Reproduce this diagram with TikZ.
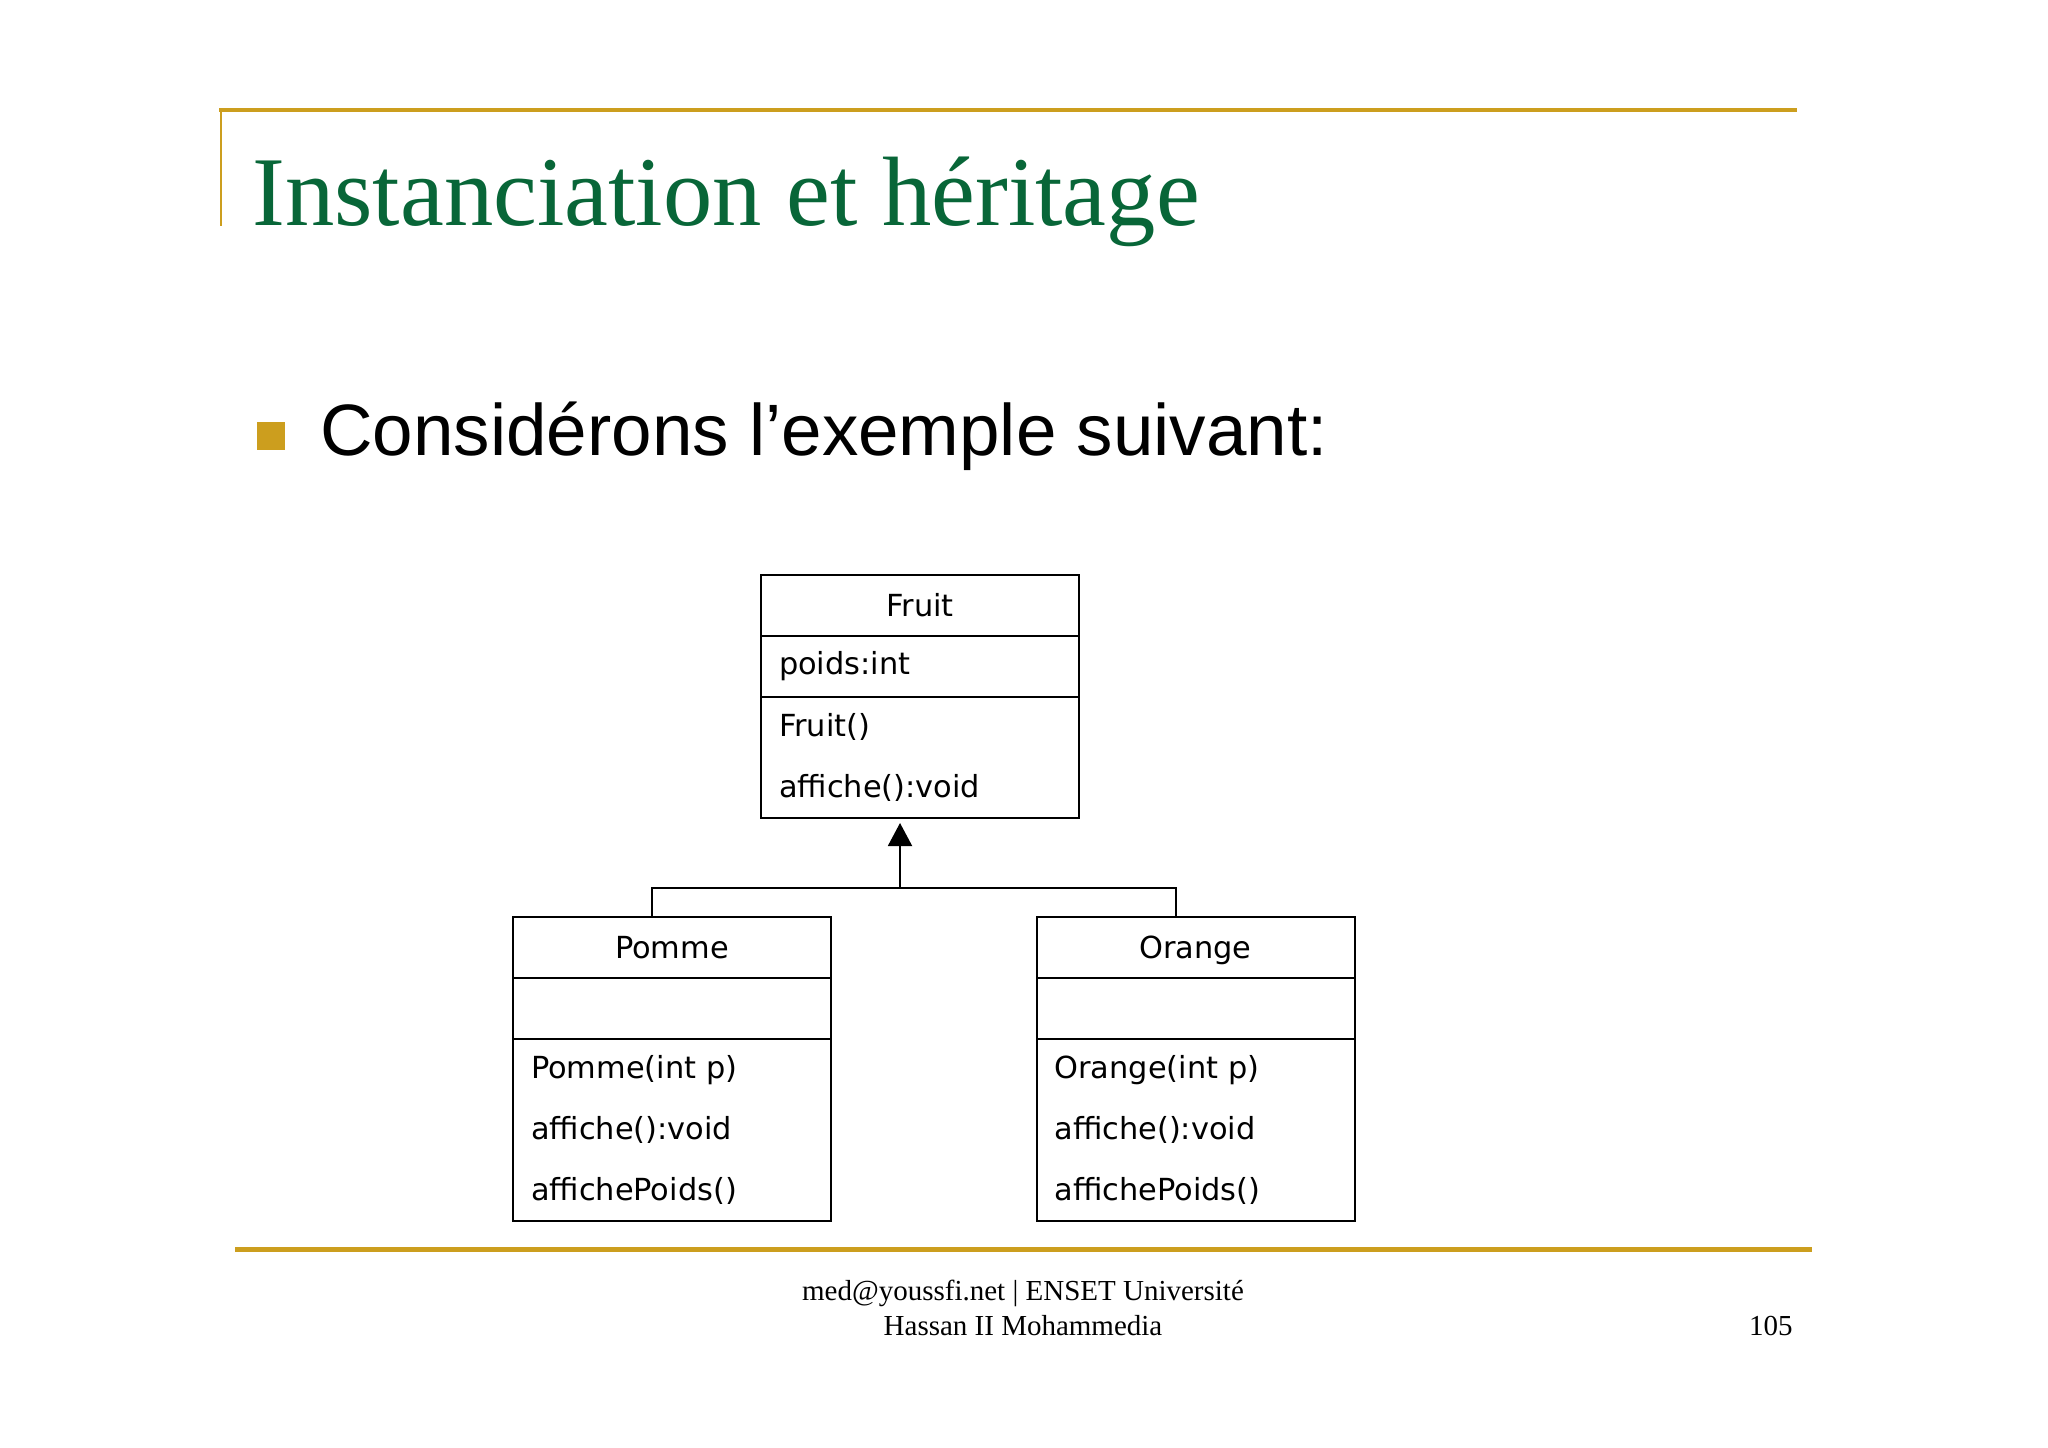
\documentclass[tikz,border=0pt]{standalone}
\usepackage{fontspec}
\setmainfont{Liberation Serif}
\newfontfamily\umlfont{DejaVu Sans}
\newfontfamily\slidesans{Liberation Sans}
\usetikzlibrary{positioning,arrows.meta}
\definecolor{slidegold}{RGB}{204,158,30}
\definecolor{slidegreen}{RGB}{8,102,56}
\tikzset{
	classhead/.style={draw, line width=1pt, outer sep=0pt, inner sep=0pt, minimum width=159pt, minimum height=30.5pt,
		text height=11pt, text depth=0pt, font=\umlfont\fontsize{15.2}{30.5}\selectfont},
	classbody/.style={draw, line width=1pt, outer sep=0pt, inner ysep=0pt, inner xsep=9pt, text width=141pt,
		align=left, minimum height=30.5pt, font=\umlfont\fontsize{15.2}{30.5}\selectfont},
	footer/.style={inner sep=0pt, font=\fontsize{14.5}{17.5}\selectfont}
}
\begin{document}
\begin{tikzpicture}[x=0.5pt, y=-0.5pt]
	\useasboundingbox[fill=white] (0,0) rectangle (2048,1447);
	% frame of the slide
	\draw[slidegold, line width=2pt] (219,110) -- (1797,110);
	\draw[slidegold, line width=1.3pt] (221,110) -- (221,226);
	\draw[slidegold, line width=2.5pt] (235,1249) -- (1812,1249);
	
	\node[anchor=base west, inner sep=0pt, text=slidegreen, font=\fontsize{49.3}{60}\selectfont] (title) at (252,225) {Instanciation et héritage};
	\node[fill=slidegold, minimum size=14pt, inner sep=0pt] (bullet) at (271,435.5) {};
	\node[anchor=base west, inner sep=0pt, font=\slidesans\fontsize{36.4}{44}\selectfont] (intro) at (320,455) {Considérons l’exemple suivant:};
	
	% classes
	\node[classhead] (fruit) at (920,605.5) {Fruit};
	\node[classbody, below=0pt of fruit] (fruitattr) {poids:int};
	\node[classbody, below=0pt of fruitattr, minimum height=60.5pt] (fruitops) {Fruit()\\affiche():void};
	
	\node[classhead] (pomme) at (672,947.5) {Pomme};
	\node[classbody, below=0pt of pomme] (pommeattr) {};
	\node[classbody, below=0pt of pommeattr, minimum height=91pt] (pommeops) {Pomme(int p)\\affiche():void\\affichePoids()};
	
	\node[classhead] (orange) at (1195.5,947.5) {Orange};
	\node[classbody, below=0pt of orange] (orangeattr) {};
	\node[classbody, below=0pt of orangeattr, minimum height=91pt] (orangeops) {Orange(int p)\\affiche():void\\affichePoids()};
	
	% inheritance
	\coordinate (junction) at (900,888);
	\draw[-{Triangle[width=12pt,length=11.5pt]}, line width=1pt, shorten >=2.5pt] (junction) -- (junction |- fruitops.south);
	\draw[line width=1pt] ([xshift=-10pt]pomme.north) |- (junction) -| ([xshift=-10pt]orange.north);
	
	\node[footer, anchor=base] (mail) at (1023,1300) {med@youssfi.net \textbar\ ENSET Université};
	\node[footer, anchor=base] (school) at (1023,1335) {Hassan II Mohammedia};
	\node[footer, anchor=base east] (page) at (1793,1335) {105};
\end{tikzpicture}
\end{document}
